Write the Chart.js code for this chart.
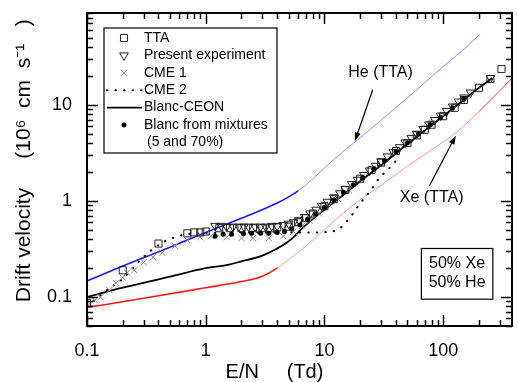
<!DOCTYPE html>
<html>
<head>
<meta charset="utf-8">
<script src="https://cdn.jsdelivr.net/npm/chart.js@4.4.0/dist/chart.umd.min.js"></script>
<style>
  html, body { margin: 0; padding: 0; background: #fff; }
</style>
</head>
<body>
<canvas id="chart" width="518" height="382"></canvas>
<script>
// E/N in Td, drift velocity in 10^6 cm/s, 50% Xe + 50% He
const xTickLabels = [0.1, 1, 10, 100];
const yTickLabels = [0.1, 1, 10];

const ttaE = [0.1, 0.2, 0.4, 0.7, 0.8, 0.9, 1.0, 1.3, 1.6, 2.0, 2.5, 3.0, 3.5, 4.0, 5.0, 6.0, 7.0, 8.0, 10, 12, 15, 20, 25, 30, 40, 50, 60, 70, 80, 100, 125, 150, 200, 250, 310];
const ttaV = [0.087, 0.19, 0.36, 0.46, 0.47, 0.47, 0.48, 0.52, 0.52, 0.52, 0.52, 0.52, 0.52, 0.53, 0.54, 0.6, 0.66, 0.74, 0.88, 1.04, 1.3, 1.7, 2.1, 2.5, 3.3, 4.0, 4.8, 5.5, 6.2, 7.6, 9.3, 11.2, 15, 18.5, 23.5];

const presentE = [1.2, 1.35, 1.5, 1.7, 1.9, 2.1, 2.3, 2.6, 2.9, 3.2, 3.6, 4.0, 4.5, 5.0, 5.5, 6.1, 6.8, 7.6, 8.5, 9.5, 10.6, 12, 13.5, 15, 17, 19, 21.5, 24, 27, 30, 34, 38, 43, 48, 54, 60, 68, 76, 85, 95, 107, 120, 135, 150, 170, 250];
const presentV = [0.55, 0.55, 0.54, 0.54, 0.54, 0.54, 0.54, 0.54, 0.54, 0.54, 0.55, 0.55, 0.56, 0.58, 0.6, 0.63, 0.68, 0.74, 0.81, 0.89, 0.98, 1.09, 1.2, 1.33, 1.5, 1.66, 1.86, 2.07, 2.32, 2.58, 2.9, 3.22, 3.62, 4.05, 4.5, 5.0, 5.6, 6.25, 6.95, 7.7, 8.6, 9.6, 10.8, 11.9, 13.4, 19];

const cme1E = [0.105, 0.116, 0.13, 0.154, 0.176, 0.2, 0.218, 0.25, 0.3, 0.36, 0.43, 0.55, 0.7, 0.9, 1.1, 1.5, 2.0, 2.5, 3.4, 4.5, 5.5, 6.5, 7.5, 9, 11, 13, 16];
const cme1V = [0.085, 0.093, 0.1, 0.118, 0.14, 0.16, 0.18, 0.19, 0.23, 0.26, 0.29, 0.34, 0.39, 0.42, 0.43, 0.42, 0.41, 0.41, 0.41, 0.43, 0.48, 0.55, 0.62, 0.74, 0.9, 1.05, 1.3];

const cme2E = [0.1, 0.15, 0.2, 0.28, 0.34, 0.47, 0.56, 0.68, 1, 2, 4, 6.6, 9.3, 11, 13, 15, 17.3, 19.8, 22.2, 26, 29, 34, 40];
const cme2V = [0.08, 0.12, 0.155, 0.24, 0.3, 0.39, 0.42, 0.45, 0.46, 0.47, 0.47, 0.47, 0.47, 0.48, 0.5, 0.59, 0.73, 0.93, 1.1, 1.43, 1.73, 2.09, 2.6];

const ceonE = [0.1, 0.2, 0.5, 1, 1.5, 2, 3, 4, 4.7, 5.5, 6.2, 7.3, 8.5, 10, 15, 20, 30, 50, 70, 100, 150, 200, 260];
const ceonV = [0.1, 0.125, 0.163, 0.2, 0.215, 0.235, 0.27, 0.32, 0.36, 0.42, 0.49, 0.59, 0.69, 0.81, 1.2, 1.6, 2.35, 3.9, 5.4, 7.6, 11.3, 15, 19];

const mixE = [1.2, 1.4, 1.65, 2.08, 2.43, 2.9, 3.4, 4, 4.6, 5.3, 6.2, 7.2, 8.4, 10, 12, 14.5, 17.5, 21, 26, 32, 40, 50, 62, 78, 95, 120, 150];
const mixV = [0.43, 0.45, 0.45, 0.455, 0.46, 0.46, 0.46, 0.47, 0.48, 0.51, 0.56, 0.64, 0.73, 0.86, 1.02, 1.23, 1.47, 1.75, 2.15, 2.6, 3.25, 4.0, 4.95, 6.2, 7.4, 9.3, 11.6];

const heE = [0.1, 0.2, 0.5, 1, 2, 3, 4, 5, 6, 8, 10, 15, 20, 30, 50, 100, 150, 204];
const heV = [0.147, 0.21, 0.33, 0.47, 0.66, 0.81, 0.95, 1.1, 1.27, 1.7, 2.2, 3.4, 4.55, 6.9, 11.8, 25, 38, 54];

const xeE = [0.1, 0.3, 1, 2, 3, 4, 5, 7, 10, 13, 20, 30, 50, 80, 130, 200, 300, 390];
const xeV = [0.078, 0.097, 0.125, 0.145, 0.165, 0.2, 0.245, 0.34, 0.5, 0.67, 1.03, 1.45, 2.3, 3.4, 5.2, 8.5, 14, 19.5];

// annotations, in data coordinates
const heNote = { text: 'He (TTA)', at: [29.7, 21.4], from: [25.5, 14.3], to: [18, 4.16] };
const xeNote = { text: 'Xe (TTA)', at: [80, 1.07], from: [76.4, 1.43], to: [128, 4.79] };
const mixNote = { lines: ['50% Xe', '50% He'], box: [65.5, 0.32, 262, 0.095] };

const FONT = '"Liberation Sans", Arial, Helvetica, sans-serif';
Chart.defaults.font.family = FONT;
Chart.defaults.color = '#000';

const pts = (xs, ys) => xs.map((x, i) => ({ x: x, y: ys[i] }));

function decadeTicks(min, max) {
  const out = [];
  for (let p = Math.floor(Math.log10(min)); p <= Math.ceil(Math.log10(max)); p++) {
    for (let m = 1; m < 10; m++) {
      const v = m * Math.pow(10, p);
      if (v >= min * 0.999 && v <= max * 1.001) out.push({ value: v, major: m === 1 });
    }
  }
  return out;
}
const hasLabel = (list, v) => list.some(l => Math.abs(l - v) / l < 1e-6);

function arrow(ctx, x0, y0, x1, y1) {
  const ang = Math.atan2(y1 - y0, x1 - x0);
  ctx.beginPath();
  ctx.moveTo(x0, y0);
  ctx.lineTo(x1 - 6 * Math.cos(ang), y1 - 6 * Math.sin(ang));
  ctx.stroke();
  ctx.beginPath();
  ctx.moveTo(x1, y1);
  ctx.lineTo(x1 - 9 * Math.cos(ang) + 3 * Math.sin(ang), y1 - 9 * Math.sin(ang) - 3 * Math.cos(ang));
  ctx.lineTo(x1 - 9 * Math.cos(ang) - 3 * Math.sin(ang), y1 - 9 * Math.sin(ang) + 3 * Math.cos(ang));
  ctx.closePath();
  ctx.fill();
}

const notesPlugin = {
  id: 'notes',
  afterDraw(chart) {
    const { ctx, chartArea: a } = chart;
    const x = chart.scales.x, y = chart.scales.y;
    ctx.save();
    ctx.strokeStyle = '#000';
    ctx.fillStyle = '#000';

    // frame
    ctx.lineWidth = 2;
    ctx.strokeRect(a.left, a.top, a.right - a.left, a.bottom - a.top);

    // inward ticks on all sides
    ctx.lineWidth = 1.5;
    ctx.beginPath();
    x.ticks.forEach(t => {
      const px = Math.round(x.getPixelForValue(t.value)) + 0.5;
      const len = t.major ? 11 : 6;
      ctx.moveTo(px, a.bottom); ctx.lineTo(px, a.bottom - len);
      ctx.moveTo(px, a.top); ctx.lineTo(px, a.top + len);
    });
    y.ticks.forEach(t => {
      const py = Math.round(y.getPixelForValue(t.value)) + 0.5;
      const len = t.major ? 11 : 6;
      ctx.moveTo(a.left, py); ctx.lineTo(a.left + len, py);
      ctx.moveTo(a.right, py); ctx.lineTo(a.right - len, py);
    });
    ctx.stroke();

    // legend box
    const lx = a.left + 17, ly = a.top + 15;
    ctx.lineWidth = 1.2;
    ctx.fillStyle = '#fff';
    ctx.fillRect(lx, ly, 173, 125);
    ctx.strokeRect(lx, ly, 173, 125);
    ctx.fillStyle = '#000';
    ctx.font = '14px ' + FONT;
    ctx.textBaseline = 'middle';
    ctx.textAlign = 'left';
    let row = 0;
    chart.data.datasets.forEach(ds => {
      if (!ds.inLegend) return;
      const cy = ly + 10 + row * 17.4;
      const sx = lx + 20;
      ctx.save();
      ctx.strokeStyle = ds.borderColor;
      ctx.fillStyle = ds.pointBackgroundColor || ds.borderColor;
      if (ds.pointRadius === 0) {
        ctx.lineWidth = ds.borderWidth;
        ctx.setLineDash(ds.borderDash || []);
        ctx.lineCap = ds.borderCapStyle || 'butt';
        ctx.beginPath();
        ctx.moveTo(lx + 3, cy); ctx.lineTo(lx + 38, cy);
        ctx.stroke();
      } else {
        ctx.lineWidth = ds.pointBorderWidth;
        Chart.helpers.drawPoint(ctx, {
          pointStyle: ds.pointStyle, radius: ds.pointRadius,
          rotation: ds.pointRotation || 0, borderWidth: ds.pointBorderWidth
        }, sx, cy);
      }
      ctx.restore();
      ds.label.split('\n').forEach((line, k) => {
        ctx.fillText(line, lx + 40 + (k ? 3 : 0), cy + k * 17.4);
      });
      row += ds.label.split('\n').length;
    });

    // He / Xe notes
    ctx.font = '16px ' + FONT;
    ctx.textAlign = 'center';
    ctx.lineWidth = 1.2;
    [heNote, xeNote].forEach(n => {
      ctx.fillText(n.text, x.getPixelForValue(n.at[0]), y.getPixelForValue(n.at[1]));
      arrow(ctx, x.getPixelForValue(n.from[0]), y.getPixelForValue(n.from[1]),
        x.getPixelForValue(n.to[0]), y.getPixelForValue(n.to[1]));
    });

    // mixture box
    const bx0 = x.getPixelForValue(mixNote.box[0]), by0 = y.getPixelForValue(mixNote.box[1]);
    const bx1 = x.getPixelForValue(mixNote.box[2]), by1 = y.getPixelForValue(mixNote.box[3]);
    ctx.lineWidth = 1.2;
    ctx.strokeRect(bx0, by0, bx1 - bx0, by1 - by0);
    mixNote.lines.forEach((line, k) => {
      ctx.fillText(line, (bx0 + bx1) / 2, by0 + 15 + k * 19);
    });
    ctx.restore();
  }
};

new Chart(document.getElementById('chart'), {
  type: 'scatter',
  data: {
    datasets: [
      {
        label: 'TTA', inLegend: true, order: 3,
        data: pts(ttaE, ttaV), pointStyle: 'rect', pointRadius: 5, pointBorderWidth: 1,
        borderColor: '#222', pointBackgroundColor: 'rgba(0,0,0,0)', backgroundColor: 'rgba(0,0,0,0)'
      },
      {
        label: 'Present experiment', inLegend: true, order: 2,
        data: pts(presentE, presentV), pointStyle: 'triangle', pointRotation: 180, pointRadius: 5, pointBorderWidth: 1,
        borderColor: '#222', pointBackgroundColor: 'rgba(0,0,0,0)', backgroundColor: 'rgba(0,0,0,0)'
      },
      {
        label: 'CME 1', inLegend: true, order: 4,
        data: pts(cme1E, cme1V), pointStyle: 'crossRot', pointRadius: 4.5, pointBorderWidth: 1,
        borderColor: '#8a8a8a', pointBackgroundColor: '#8a8a8a'
      },
      {
        label: 'CME 2', inLegend: true, order: 5,
        data: pts(cme2E, cme2V), showLine: true, pointRadius: 0, borderWidth: 2,
        borderDash: [0.5, 8], borderCapStyle: 'round', borderColor: '#000', cubicInterpolationMode: 'monotone'
      },
      {
        label: 'Blanc-CEON', inLegend: true, order: 6,
        data: pts(ceonE, ceonV), showLine: true, pointRadius: 0, borderWidth: 1.8,
        borderColor: '#000', cubicInterpolationMode: 'monotone'
      },
      {
        label: 'Blanc from mixtures\n(5 and 70%)', inLegend: true, order: 1,
        data: pts(mixE, mixV), pointStyle: 'circle', pointRadius: 2.5, pointBorderWidth: 0,
        borderColor: '#000', pointBackgroundColor: '#000'
      },
      {
        label: 'He (TTA)', order: 7,
        data: pts(heE, heV), showLine: true, pointRadius: 0, borderWidth: 1.2, borderColor: '#8f8fff',
        cubicInterpolationMode: 'monotone',
        segment: {
          borderColor: c => c.p1.parsed.x <= 6 ? '#1a1aff' : '#9090ff',
          borderWidth: c => c.p1.parsed.x <= 6 ? 1.6 : 1
        }
      },
      {
        label: 'Xe (TTA)', order: 8,
        data: pts(xeE, xeV), showLine: true, pointRadius: 0, borderWidth: 1.2, borderColor: '#ff9090',
        cubicInterpolationMode: 'monotone',
        segment: {
          borderColor: c => c.p1.parsed.x <= 4 ? '#ff1a1a' : (c.p0.parsed.x >= 200 ? '#ff4040' : '#ff9a9a'),
          borderWidth: c => c.p1.parsed.x <= 4 ? 1.6 : 1
        }
      }
    ]
  },
  options: {
    responsive: false,
    animation: false,
    devicePixelRatio: 1,
    layout: { padding: { top: 13, right: 2, left: 0, bottom: 0 } },
    plugins: { legend: { display: false }, tooltip: { enabled: false } },
    scales: {
      x: {
        type: 'logarithmic', min: 0.1, max: 380,
        grid: { display: false, drawTicks: false }, border: { display: false },
        afterBuildTicks: s => { s.ticks = decadeTicks(s.min, s.max); },
        afterFit: s => { s.height = 56; s.paddingLeft = 0; s.paddingRight = 0; },
        ticks: {
          autoSkip: false, maxRotation: 0, padding: 14, font: { size: 18 },
          callback: v => hasLabel(xTickLabels, v) ? String(v) : ''
        },
        title: { display: true, text: 'E/N     (Td)         ', font: { size: 20, lineHeight: 1 }, padding: 0 }
      },
      y: {
        type: 'logarithmic', min: 0.05, max: 90,
        grid: { display: false, drawTicks: false }, border: { display: false },
        afterBuildTicks: s => { s.ticks = decadeTicks(s.min, s.max); },
        afterFit: s => { s.width = 87; s.paddingTop = 0; s.paddingBottom = 0; },
        ticks: {
          autoSkip: false, padding: 15, font: { size: 18 },
          callback: v => hasLabel(yTickLabels, v) ? String(v) : ''
        },
        title: {
          display: true, text: '   Drift velocity     (10\u2076  cm  s\u207B\u00B9   )',
          font: { size: 21, lineHeight: 1.2 }, padding: { top: 12, bottom: 12 }
        }
      }
    }
  },
  plugins: [notesPlugin]
});
</script>
</body>
</html>
